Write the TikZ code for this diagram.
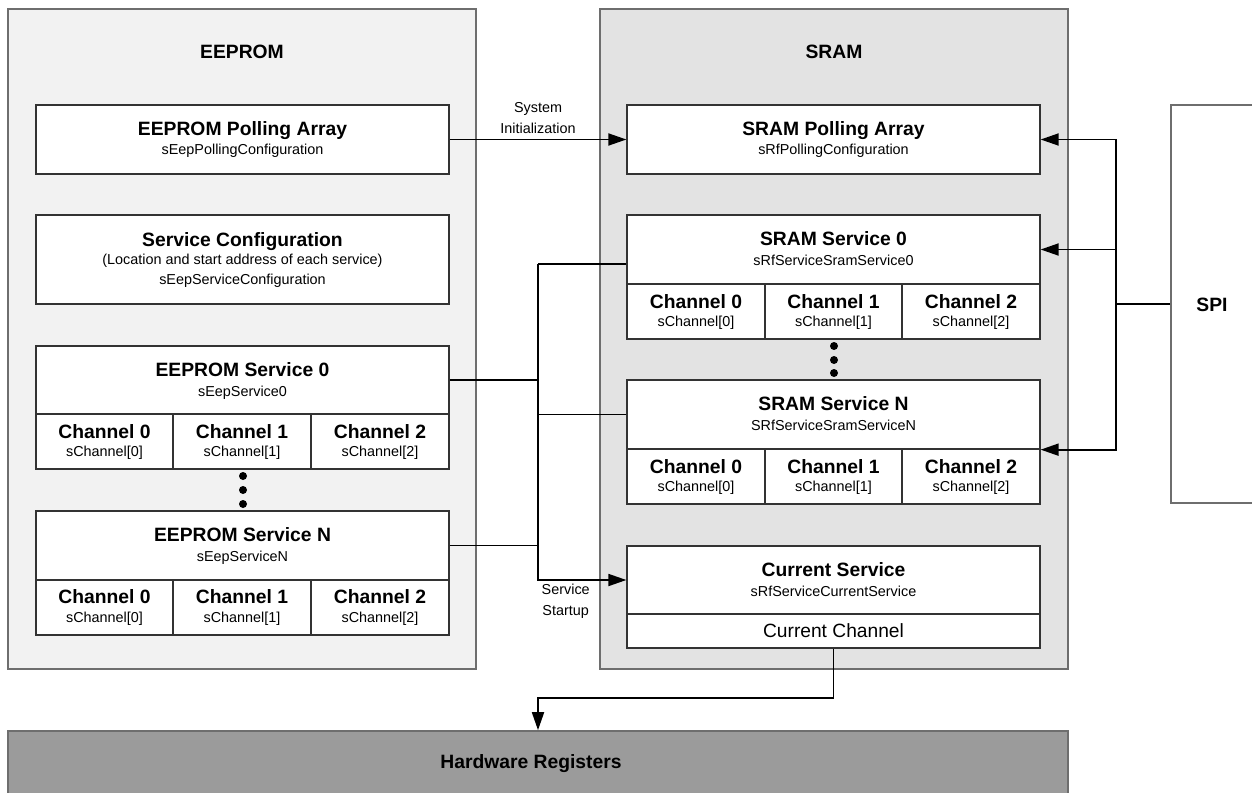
\documentclass[tikz,border=0pt]{standalone}
\usepackage{fontspec}
\setmainfont{Liberation Sans}
\usetikzlibrary{fit,arrows.meta,calc}
\definecolor{eeFill}{HTML}{F2F2F2}
\definecolor{srFill}{HTML}{E3E3E3}
\definecolor{hwFill}{HTML}{9B9B9B}
\definecolor{outerLine}{HTML}{6E6E6E}
\definecolor{innerLine}{HTML}{333333}
\newcommand\fntB{\fontsize{19.3}{22}\selectfont\bfseries}
\newcommand\fntS{\fontsize{14.4}{17}\selectfont}
\newcommand\fntM{\fontsize{19.2}{22}\selectfont}
\begin{document}
\begin{tikzpicture}[x=1pt,y=-1pt,
 outerbox/.style={draw=outerLine, line width=1.6pt, inner sep=0pt},
 memEE/.style={outerbox, fill=eeFill},
 memSR/.style={outerbox, fill=srFill},
 cellbox/.style={draw=innerLine, fill=white, line width=1.3pt, inner sep=0pt},
 ttl/.style={anchor=base, font=\fntB, inner sep=0pt},
 sub/.style={anchor=base, font=\fntS, inner sep=0pt},
 conn/.style={draw=black, line width=1.8pt},
 arr/.style={-{Triangle[length=18pt,width=12pt]}},
 dotmark/.style={circle, fill=black, inner sep=0pt, minimum size=8pt}
]
\useasboundingbox (0,0) rectangle (1252,792);

% memory areas
\node[memEE, fit={(8,9)(476,669)}] (eeprom) {};
\node[memSR, fit={(600,9)(1068,669)}] (sram) {};
\node[ttl] (eepromT) at (242,59) {EEPROM};
\node[ttl] (sramT) at (834,59) {SRAM};

% SPI and hardware
\node[outerbox, fill=white, fit={(1171,105)(1300,503)}] (spi) {};
\node[ttl] (spiT) at (1212,311) {SPI};
\node[outerbox, fill=hwFill, fit={(8,731)(1068,820)}] (hw) {};
\node[ttl] (hwT) at (531,768) {Hardware Registers};

% connector junctions
\coordinate (spiJ) at (1116,304);
\coordinate (bT) at (538,264);

% connectors
\draw[conn] (spi.west |- spiJ) -- (spiJ);
\draw[conn] (bT) -- (538,580);

% EEPROM content
\node[cellbox, fit={(36,105)(449,174)}] (eePoll) {};
\node[ttl] (eePollT) at (242.5,135) {EEPROM Polling Array};
\node[sub] (eePollS) at (242.5,154.5) {sEepPollingConfiguration};

\node[cellbox, fit={(36,215)(449,304)}] (eeCfg) {};
\node[ttl] (eeCfgT) at (242.5,246) {Service Configuration};
\node[sub] (eeCfgS) at (242.5,264) {(Location and start address of each service)};
\node[sub] (eeCfgU) at (242.5,284.5) {sEepServiceConfiguration};

\node[cellbox, fit={(36,346)(449,414)}] (ee0h) {};
\node[ttl] (ee0hT) at (242.5,376) {EEPROM Service 0};
\node[sub] (ee0hS) at (242.5,396) {sEepService0};
\foreach \i/\xa/\xb in {0/36/173,1/173/311,2/311/449} {
  \node[cellbox, fit={(\xa,414)(\xb,469)}] (ee0c\i) {};
  \node[ttl] (ee0ct\i) at ({(\xa+\xb)/2},438) {Channel \i};
  \node[sub] (ee0cs\i) at ({(\xa+\xb)/2},456.5) {sChannel[\i]};
}
\node[dotmark] (eeD1) at (243,476) {};
\node[dotmark] (eeD2) at (243,490) {};
\node[dotmark] (eeD3) at (243,504) {};

\node[cellbox, fit={(36,511)(449,580)}] (eeNh) {};
\node[ttl] (eeNhT) at (242.5,541) {EEPROM Service N};
\node[sub] (eeNhS) at (242.5,561) {sEepServiceN};
\foreach \i/\xa/\xb in {0/36/173,1/173/311,2/311/449} {
  \node[cellbox, fit={(\xa,580)(\xb,635)}] (eeNc\i) {};
  \node[ttl] (eeNct\i) at ({(\xa+\xb)/2},603.5) {Channel \i};
  \node[sub] (eeNcs\i) at ({(\xa+\xb)/2},622) {sChannel[\i]};
}

% SRAM content
\node[cellbox, fit={(627,105)(1040,174)}] (srPoll) {};
\node[ttl] (srPollT) at (833.5,135) {SRAM Polling Array};
\node[sub] (srPollS) at (833.5,154.5) {sRfPollingConfiguration};

\node[cellbox, fit={(627,215)(1040,284)}] (sr0h) {};
\node[ttl] (sr0hT) at (833.5,245) {SRAM Service 0};
\node[sub] (sr0hS) at (833.5,265) {sRfServiceSramService0};
\foreach \i/\xa/\xb in {0/627/765,1/765/902,2/902/1040} {
  \node[cellbox, fit={(\xa,284)(\xb,339)}] (sr0c\i) {};
  \node[ttl] (sr0ct\i) at ({(\xa+\xb)/2},308) {Channel \i};
  \node[sub] (sr0cs\i) at ({(\xa+\xb)/2},326.5) {sChannel[\i]};
}
\node[dotmark] (srD1) at (834,346) {};
\node[dotmark] (srD2) at (834,360) {};
\node[dotmark] (srD3) at (834,373) {};

\node[cellbox, fit={(627,380)(1040,449)}] (srNh) {};
\node[ttl] (srNhT) at (833.5,410) {SRAM Service N};
\node[sub] (srNhS) at (833.5,430) {SRfServiceSramServiceN};
\foreach \i/\xa/\xb in {0/627/765,1/765/902,2/902/1040} {
  \node[cellbox, fit={(\xa,449)(\xb,504)}] (srNc\i) {};
  \node[ttl] (srNct\i) at ({(\xa+\xb)/2},473) {Channel \i};
  \node[sub] (srNcs\i) at ({(\xa+\xb)/2},491.5) {sChannel[\i]};
}

\node[cellbox, fit={(627,546)(1040,614)}] (curh) {};
\node[ttl] (curhT) at (833.5,576) {Current Service};
\node[sub] (curhS) at (833.5,596) {sRfServiceCurrentService};
\node[cellbox, fit={(627,614)(1040,648)}] (curc) {};
\node[anchor=base, font=\fntM, inner sep=0pt] (curcT) at (833.5,637) {Current Channel};

% connectors between boxes
\draw[conn, arr] (eePoll.east) -- (srPoll.west);
\node[sub] (lblInit1) at (538,112) {System};
\node[sub] (lblInit2) at (538,133.5) {Initialization};

\draw[conn, arr] (spiJ) |- (srPoll.east);
\draw[conn, arr] (spiJ) |- (sr0h.east);
\draw[conn, arr] (spiJ) |- (srNh.south east);

\draw[conn] (sr0h.west |- bT) -- (bT);
\draw[conn] (ee0h.east) -- (ee0h.east -| bT);
\draw[conn] (srNh.west) -- (srNh.west -| bT);
\draw[conn] (eeNh.east) -- (eeNh.east -| bT);
\draw[conn, arr] (bT) |- (curh.west);
\node[sub] (lblStart1) at (565.7,594.6) {Service};
\node[sub] (lblStart2) at (565.7,615) {Startup};

\draw[conn, arr] (curc.south) -- ++(0,49) -| (hw.north);
\end{tikzpicture}
\end{document}
